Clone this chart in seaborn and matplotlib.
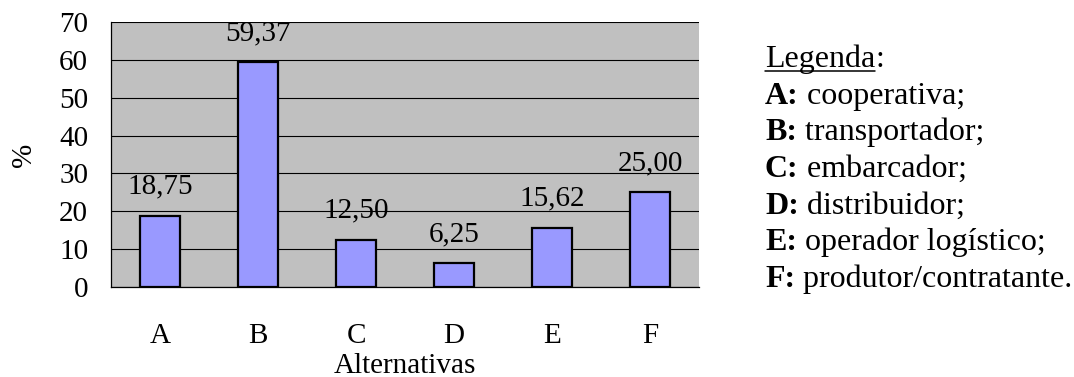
import matplotlib
matplotlib.use('Agg')
import matplotlib.pyplot as plt
import seaborn as sns
import pandas as pd
from matplotlib.lines import Line2D

# ---- data ----
categories = ['A', 'B', 'C', 'D', 'E', 'F']
values = [18.75, 59.37, 12.50, 6.25, 15.62, 25.00]
value_labels = ['18,75', '59,37', '12,50', '6,25', '15,62', '25,00']
y_ticks = [0, 10, 20, 30, 40, 50, 60, 70]
legend_keys = ['A:', 'B:', 'C:', 'D:', 'E:', 'F:']
legend_texts = ['cooperativa;', 'transportador;', 'embarcador;', 'distribuidor;',
                'operador logístico;', 'produtor/contratante.']
x_title = 'Alternativas'
y_title = '%'
legend_title = 'Legenda'

sns.set_style('white')
plt.rcParams['font.family'] = ['Liberation Serif', 'DejaVu Serif']
plt.rcParams['text.color'] = 'black'
plt.rcParams['axes.labelcolor'] = 'black'
plt.rcParams['xtick.color'] = 'black'
plt.rcParams['ytick.color'] = 'black'
FS = 21
FS_LEG = 23
W, H = 1074, 377

fig = plt.figure(figsize=(W / 100, H / 100), dpi=100)
fig.patch.set_facecolor('white')
ax = fig.add_axes([111 / W, 90 / H, 588 / W, 265 / H])

df = pd.DataFrame({'cat': categories, 'val': values})
sns.barplot(data=df, x='cat', y='val', color='#9999FF', saturation=1,
            edgecolor='black', linewidth=1.6, width=0.4, ax=ax)

ax.set_facecolor('#C0C0C0')
ax.set_xlim(-0.5, len(categories) - 0.5)
ax.set_ylim(0, 70)
ax.set_yticks(y_ticks)
ax.set_yticklabels([str(t) for t in y_ticks], fontsize=FS, color='black')
ax.yaxis.grid(True, color='black', linewidth=0.8)
ax.xaxis.grid(False)
ax.set_axisbelow(True)

for s in ['top', 'right']:
    ax.spines[s].set_visible(False)
for s in ['left', 'bottom']:
    ax.spines[s].set_color('black')
    ax.spines[s].set_linewidth(0.9)

# x ticks: labels at centers, tick marks at category boundaries
ax.set_xticks(range(len(categories)))
ax.set_xticklabels(categories, fontsize=FS, color='black')
ax.set_xticks([i - 0.5 for i in range(len(categories) + 1)], minor=True)
ax.tick_params(axis='x', which='major', length=0, pad=26)
ax.tick_params(axis='x', which='minor', length=6.5, width=0.9, color='black', direction='out')
ax.tick_params(axis='y', which='major', length=6.5, width=0.9, color='black', direction='out', pad=10)

ax.set_xlabel(x_title, fontsize=FS, va='baseline', color='black')
ax.xaxis.set_label_coords(0.5, -(373 - 287) / 265)
ax.set_ylabel(y_title, fontsize=FS, va='center', color='black')
ax.yaxis.set_label_coords((24 - 111) / 588, 0.5)

# value labels
for i, (v, lab) in enumerate(zip(values, value_labels)):
    ax.annotate(lab, xy=(i, v), xytext=(0, 16), textcoords='offset points',
                ha='center', va='baseline', fontsize=FS, color='black')

# legend block
x0 = 765 / W
base0 = 67
step = (287 - 67) / 6
fig.canvas.draw()
r = fig.canvas.get_renderer()

tL = fig.text(x0, (H - base0) / H, legend_title, fontsize=FS_LEG, va='baseline', color='black')
bbL = tL.get_window_extent(renderer=r)
fig.text(bbL.x1 / W, (H - base0) / H, ':', fontsize=FS_LEG, va='baseline', color='black')
fig.add_artist(Line2D([bbL.x0 / W, bbL.x1 / W], [(H - 70.5) / H, (H - 70.5) / H],
                      color='black', linewidth=1.1, transform=fig.transFigure))

for k, (key, txt) in enumerate(zip(legend_keys, legend_texts)):
    yb = base0 + step * (k + 1)
    tk = fig.text(x0, (H - yb) / H, key, fontsize=FS_LEG, fontweight='bold',
                  va='baseline', color='black')
    bb = tk.get_window_extent(renderer=r)
    fig.text(bb.x1 / W, (H - yb) / H, ' ' + txt, fontsize=FS_LEG, va='baseline', color='black')

fig.savefig('out.png', dpi=100)
